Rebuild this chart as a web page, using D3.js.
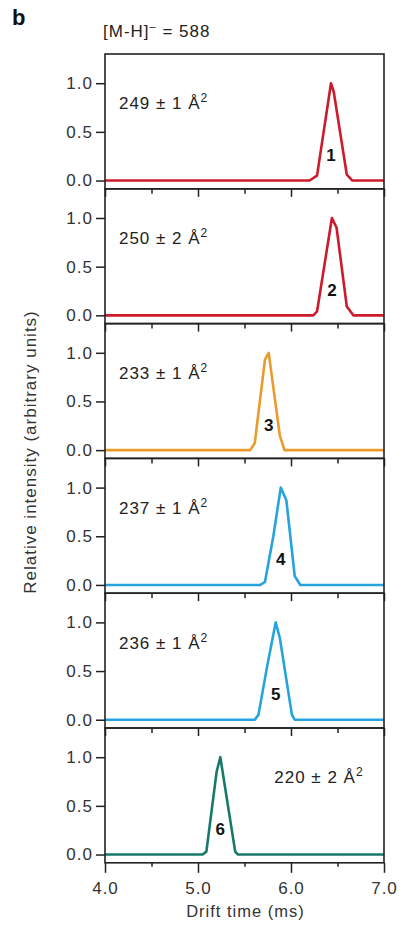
<!DOCTYPE html>
<html>
<head>
<meta charset="utf-8">
<script src="https://cdn.jsdelivr.net/npm/d3@7"></script>
<style>
  body { margin: 0; background: #fff; }
  text { font-family: "Liberation Sans", Arial, Helvetica, sans-serif; }
</style>
</head>
<body>
<svg id="chart" width="406" height="927"></svg>
<script>
// values
var peakNames = ['1', '2', '3', '4', '5', '6'];
var ccsValues = ['249 ± 1', '250 ± 2', '233 ± 1', '237 ± 1', '236 ± 1', '220 ± 2'];
var xTicksMajor = [4.0, 5.0, 6.0, 7.0];
var xTicksMinor = [4.5, 5.5, 6.5];
var yTicks = [0.0, 0.5, 1.0];

var time1 = [4.0, 6.20, 6.28, 6.43, 6.46, 6.60, 6.66, 7.0];
var int1  = [0, 0, 0.05, 1.0, 0.91, 0.06, 0, 0];
var time2 = [4.0, 6.24, 6.28, 6.44, 6.49, 6.60, 6.67, 7.0];
var int2  = [0, 0, 0.04, 1.0, 0.90, 0.09, 0, 0];
var time3 = [4.0, 5.56, 5.61, 5.72, 5.76, 5.88, 5.93, 7.0];
var int3  = [0, 0, 0.07, 0.93, 1.0, 0.15, 0, 0];
var time4 = [4.0, 5.67, 5.72, 5.81, 5.89, 5.95, 6.04, 6.10, 7.0];
var int4  = [0, 0, 0.03, 0.50, 1.0, 0.87, 0.09, 0, 0];
var time5 = [4.0, 5.61, 5.65, 5.74, 5.835, 5.88, 6.01, 6.04, 7.0];
var int5  = [0, 0, 0.05, 0.53, 1.0, 0.84, 0.05, 0, 0];
var time6 = [4.0, 5.05, 5.09, 5.20, 5.24, 5.40, 5.43, 7.0];
var int6  = [0, 0, 0.03, 0.85, 1.0, 0.03, 0, 0];

var times = [time1, time2, time3, time4, time5, time6];
var intensities = [int1, int2, int3, int4, int5, int6];
var colors = ['#cc1b2b', '#cc1b2b', '#e99b2d', '#25a3dc', '#25a3dc', '#17796a'];

var svg = d3.select('#chart');
var plotLeft = 105, plotRight = 384, plotTop = 54, panelH = 134.8;

var x = d3.scaleLinear().domain([4, 7]).range([plotLeft, plotRight]);
var y = d3.scaleLinear().domain([-0.085, 1.3]).range([panelH, 0]);

var line = d3.line()
    .x(function(d) { return x(d[0]); })
    .y(function(d) { return y(d[1]); });

svg.append('text')
    .attr('x', 12).attr('y', 25)
    .attr('font-size', 22).attr('font-weight', 'bold').attr('fill', '#111')
    .text('b');

var title = svg.append('text')
    .attr('x', 103).attr('y', 37)
    .attr('font-size', 17).attr('letter-spacing', 1).attr('fill', '#222');
title.append('tspan').text('[M-H]');
title.append('tspan').attr('dy', -7).attr('font-size', 11).text('–');
title.append('tspan').attr('dy', 7).text(' = 588');

function styleAxis(ax) {
    ax.attr('font-family', null).attr('font-size', null);
    ax.select('.domain').remove();
    ax.selectAll('line').attr('stroke', '#222').attr('stroke-width', 1.5);
    ax.selectAll('text').attr('font-size', 17).attr('letter-spacing', 1).attr('fill', '#333');
}

for (var i = 0; i < 6; i++) {
    var g = svg.append('g').attr('transform', 'translate(0,' + (plotTop + i * panelH) + ')');

    var yAxis = g.append('g')
        .attr('transform', 'translate(' + plotLeft + ',0)')
        .call(d3.axisLeft(y).tickValues(yTicks).tickSize(9).tickPadding(3)
            .tickFormat(d3.format('.1f')));
    styleAxis(yAxis);

    var last = (i === 5);
    var xMajor = g.append('g')
        .attr('transform', 'translate(0,' + panelH + ')')
        .call(d3.axisBottom(x).tickValues(xTicksMajor).tickSize(last ? 10 : 8).tickPadding(9)
            .tickFormat(last ? d3.format('.1f') : function() { return ''; }));
    var xMinor = g.append('g')
        .attr('transform', 'translate(0,' + panelH + ')')
        .call(d3.axisBottom(x).tickValues(xTicksMinor).tickSize(last ? 4 : 5)
            .tickFormat(function() { return ''; }));
    styleAxis(xMajor);
    styleAxis(xMinor);

    var pts = d3.zip(times[i], intensities[i]);
    g.append('path')
        .datum(pts)
        .attr('d', line)
        .attr('fill', 'none')
        .attr('stroke', colors[i])
        .attr('stroke-width', 2.6)
        .attr('stroke-linejoin', 'round');

    g.append('rect')
        .attr('x', plotLeft).attr('y', 0)
        .attr('width', plotRight - plotLeft).attr('height', panelH)
        .attr('fill', 'none').attr('stroke', '#222').attr('stroke-width', 1.6);

    // peak number sits at the apex time
    var peakIdx = d3.maxIndex(intensities[i]);
    g.append('text')
        .attr('x', x(times[i][peakIdx]))
        .attr('y', y(0.2))
        .attr('text-anchor', 'middle')
        .attr('font-size', 17).attr('font-weight', 'bold').attr('fill', '#111')
        .text(peakNames[i]);

    var ann = g.append('text')
        .attr('x', last ? x(5.82) : x(4.15))
        .attr('y', y(0.73))
        .attr('font-size', 17).attr('letter-spacing', 1).attr('fill', '#222');
    ann.append('tspan').text(ccsValues[i] + ' Å');
    ann.append('tspan').attr('dy', -7).attr('font-size', 12).text('2');
}

svg.append('text')
    .attr('x', (plotLeft + plotRight) / 2 + 1).attr('y', 917)
    .attr('text-anchor', 'middle')
    .attr('font-size', 16.5).attr('letter-spacing', 1).attr('fill', '#333')
    .text('Drift time (ms)');

svg.append('text')
    .attr('transform', 'translate(36,452) rotate(-90)')
    .attr('text-anchor', 'middle')
    .attr('font-size', 17).attr('letter-spacing', 1).attr('fill', '#333')
    .text('Relative intensity (arbitrary units)');
</script>
</body>
</html>
